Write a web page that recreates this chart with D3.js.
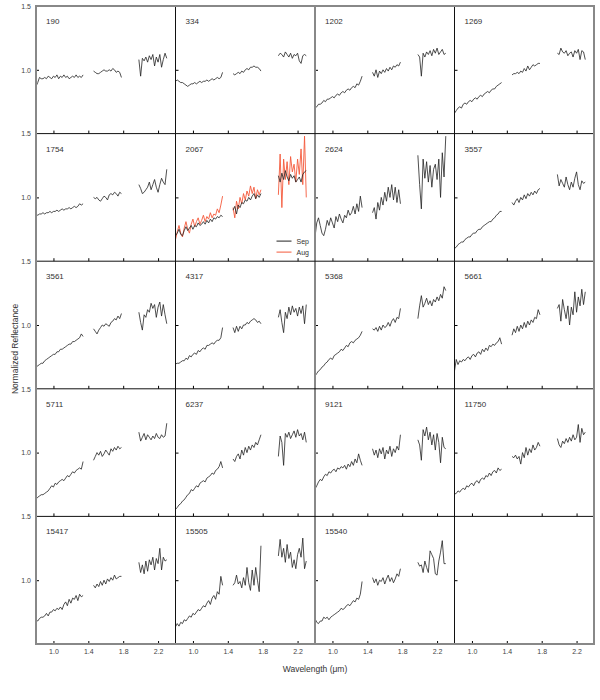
<!DOCTYPE html>
<html>
<head>
<meta charset="utf-8">
<script src="https://cdn.jsdelivr.net/npm/d3@7"></script>
<style>
  body { margin: 0; background: #fff; }
  text { font-family: "Liberation Sans", Arial, sans-serif; }
</style>
</head>
<body>
<div id="container"></div>
<script>
/* WAVELENGTH GRID (three segments, microns) */
const W1 = [0.80,0.82,0.84,0.86,0.88,0.90,0.92,0.94,0.96,0.98,1.00,1.02,1.04,1.06,1.08,1.10,1.12,1.14,1.16,1.18,1.20,1.22,1.24,1.26,1.28,1.30,1.32,1.34];
const W2 = [1.46,1.48,1.50,1.52,1.54,1.56,1.58,1.60,1.62,1.64,1.66,1.68,1.70,1.72,1.74,1.76,1.78];
const W3 = [1.98,2.00,2.02,2.04,2.06,2.08,2.10,2.12,2.14,2.16,2.18,2.20,2.22,2.24,2.26,2.28,2.30];

/* TICKS */
const xTicks = [1.0, 1.4, 1.8, 2.2];
const yTicks = [1.0, 1.5];

/* PANEL NAMES */
const names = ["190","334","1202","1269","1754","2067","2624","3557","3561","4317","5368","5661","5711","6237","9121","11750","15417","15505","15540"];

/* REFLECTANCE SPECTRA: [segment1, segment2, segment3] */
const s190 = [
  [0.87,0.90,0.94,0.93,0.93,0.94,0.93,0.95,0.94,0.93,0.95,0.94,0.96,0.93,0.95,0.94,0.96,0.94,0.95,0.93,0.94,0.95,0.94,0.96,0.94,0.95,0.94,0.96],
  [0.99,0.98,0.97,0.97,0.98,0.99,1.00,0.99,0.99,1.00,0.99,1.01,1.00,0.98,0.99,0.98,0.94],
  [1.08,0.95,1.09,1.07,1.10,1.06,1.11,1.08,1.12,1.03,1.10,1.06,1.12,1.02,1.08,1.13,1.09]];
const s334 = [
  [0.91,0.92,0.91,0.90,0.90,0.89,0.88,0.87,0.88,0.89,0.89,0.90,0.89,0.90,0.91,0.90,0.91,0.91,0.92,0.91,0.92,0.93,0.92,0.93,0.94,0.93,0.94,0.98],
  [0.97,0.96,0.97,0.98,0.97,0.99,0.98,1.00,1.01,1.00,1.02,1.02,1.03,1.02,1.02,1.01,0.99],
  [1.11,1.13,1.12,1.10,1.14,1.12,1.10,1.13,1.09,1.12,1.11,1.13,1.07,1.05,1.11,1.12,1.11]];
const s1202 = [
  [0.70,0.71,0.73,0.73,0.74,0.76,0.75,0.77,0.77,0.78,0.79,0.78,0.80,0.81,0.80,0.82,0.83,0.82,0.84,0.85,0.84,0.86,0.87,0.86,0.89,0.88,0.91,0.95],
  [0.98,0.95,1.00,0.94,0.99,0.97,1.00,0.98,1.01,0.99,1.02,1.00,1.03,1.02,1.04,1.03,1.06],
  [1.12,1.10,0.95,1.13,1.10,1.14,1.12,1.15,1.11,1.16,1.13,1.17,1.12,1.14,1.16,1.12,1.13]];
const s1269 = [
  [0.66,0.68,0.70,0.71,0.70,0.73,0.74,0.73,0.75,0.76,0.75,0.77,0.78,0.77,0.79,0.80,0.79,0.81,0.82,0.83,0.82,0.84,0.85,0.85,0.87,0.88,0.89,0.90],
  [0.96,0.97,0.97,0.98,0.97,0.99,0.98,1.01,0.99,1.03,1.00,1.02,1.04,1.03,1.04,1.05,1.05],
  [1.13,1.12,1.17,1.14,1.13,1.15,1.11,1.13,1.14,1.10,1.15,1.13,1.16,1.08,1.15,1.14,1.08]];
const s1754 = [
  [0.87,0.86,0.87,0.87,0.88,0.87,0.88,0.88,0.89,0.88,0.89,0.89,0.90,0.89,0.90,0.91,0.90,0.91,0.91,0.92,0.91,0.92,0.93,0.92,0.93,0.95,0.94,0.95],
  [1.00,0.99,1.00,0.98,0.97,0.99,1.01,1.00,0.98,1.02,1.03,1.02,1.04,1.03,1.01,1.04,1.03],
  [1.10,1.07,1.03,1.04,1.06,1.08,1.12,1.06,1.10,1.14,1.08,1.04,1.10,1.15,1.12,1.10,1.22]];
const s2067 = [
  [0.70,0.72,0.75,0.71,0.70,0.74,0.77,0.74,0.76,0.78,0.75,0.78,0.77,0.80,0.78,0.79,0.81,0.79,0.82,0.80,0.83,0.81,0.84,0.83,0.85,0.84,0.86,0.85],
  [0.90,0.93,0.87,0.94,0.92,0.96,0.95,0.98,0.97,1.00,0.98,1.01,1.03,0.99,1.02,1.00,1.03],
  [1.17,1.12,1.19,1.14,1.21,1.16,1.13,1.18,1.15,1.17,1.12,1.14,1.16,1.12,1.18,1.20,1.21]];
const aug2067 = [
  [0.67,0.73,0.78,0.72,0.69,0.76,0.81,0.75,0.72,0.79,0.83,0.77,0.81,0.84,0.79,0.82,0.86,0.81,0.85,0.83,0.88,0.84,0.87,0.86,0.91,0.88,0.94,1.01],
  [0.92,0.84,0.97,0.91,1.00,0.95,1.03,0.98,1.05,1.01,1.09,1.03,1.08,0.99,1.06,1.02,1.06],
  [1.02,1.34,0.92,1.30,1.14,1.28,1.10,1.32,1.20,1.26,1.12,1.30,1.18,1.38,1.10,1.48,1.00]];
const s2624 = [
  [0.69,0.80,0.84,0.78,0.72,0.70,0.75,0.82,0.78,0.84,0.80,0.76,0.85,0.81,0.87,0.83,0.80,0.86,0.84,0.90,0.86,0.88,0.93,0.87,0.95,0.89,1.01,0.92],
  [0.88,0.92,0.83,0.96,0.90,1.00,0.94,1.04,0.97,1.08,1.00,1.10,0.98,1.08,0.96,1.06,0.95],
  [1.33,1.10,0.91,1.30,1.15,1.28,1.12,1.25,1.08,1.22,1.26,1.14,1.30,1.00,1.35,1.16,1.48]];
const s3557 = [
  [0.60,0.61,0.63,0.64,0.65,0.65,0.67,0.68,0.69,0.69,0.71,0.72,0.72,0.74,0.75,0.75,0.77,0.78,0.79,0.80,0.81,0.81,0.83,0.84,0.86,0.87,0.89,0.89],
  [0.96,0.94,0.97,0.99,0.96,1.00,0.98,1.02,0.99,1.03,1.01,1.04,1.02,1.05,1.03,1.06,1.07],
  [1.18,1.09,1.14,1.11,1.08,1.16,1.10,1.06,1.12,1.08,1.15,1.20,1.10,1.06,1.13,1.11,1.12]];
const s3561 = [
  [0.67,0.68,0.69,0.70,0.70,0.72,0.73,0.74,0.75,0.76,0.77,0.77,0.79,0.79,0.81,0.81,0.82,0.83,0.84,0.85,0.85,0.87,0.87,0.88,0.89,0.90,0.93,0.91],
  [0.97,0.95,0.93,0.96,0.98,1.00,0.99,1.01,1.00,0.99,1.02,1.03,1.05,1.04,1.07,1.05,1.09],
  [1.10,1.02,0.96,1.08,1.06,1.12,1.10,1.17,1.13,1.16,1.06,1.14,1.18,1.07,1.16,1.08,1.01]];
const s4317 = [
  [0.695,0.70,0.70,0.71,0.72,0.72,0.74,0.73,0.76,0.75,0.77,0.78,0.77,0.80,0.79,0.81,0.82,0.81,0.84,0.84,0.85,0.86,0.85,0.87,0.88,0.88,0.90,0.98],
  [0.98,0.94,0.99,0.95,0.99,0.97,1.00,1.00,1.02,1.01,1.03,1.04,1.05,1.04,1.02,1.03,1.01],
  [1.06,1.12,1.02,0.94,1.10,1.05,1.14,1.08,1.15,1.10,1.13,1.07,1.14,1.09,1.15,1.01,1.16]];
const s5368 = [
  [0.60,0.62,0.64,0.65,0.67,0.68,0.70,0.71,0.73,0.74,0.73,0.76,0.77,0.78,0.79,0.81,0.80,0.82,0.84,0.83,0.86,0.87,0.86,0.88,0.89,0.90,0.92,0.95],
  [0.97,0.96,0.98,0.95,0.99,0.96,1.00,0.98,0.99,1.02,0.99,1.03,1.05,1.02,1.06,1.05,1.13],
  [1.05,1.15,1.23,1.14,1.17,1.21,1.16,1.19,1.15,1.20,1.18,1.22,1.19,1.24,1.21,1.30,1.27]];
const s5661 = [
  [0.64,0.73,0.69,0.72,0.71,0.73,0.72,0.74,0.75,0.73,0.76,0.77,0.75,0.78,0.79,0.77,0.81,0.79,0.82,0.80,0.84,0.83,0.85,0.84,0.86,0.87,0.90,0.85],
  [0.92,0.97,0.94,0.99,0.95,1.00,0.97,1.02,0.98,1.03,1.00,1.04,1.02,1.06,1.05,1.12,1.08],
  [1.13,1.16,1.03,1.20,1.12,1.05,1.15,1.00,1.14,1.08,1.26,1.10,1.22,1.15,1.28,1.16,1.26]];
const s5711 = [
  [0.635,0.65,0.66,0.67,0.67,0.68,0.69,0.70,0.72,0.74,0.73,0.76,0.75,0.77,0.78,0.79,0.78,0.80,0.82,0.81,0.83,0.85,0.84,0.86,0.87,0.88,0.87,0.93],
  [0.94,0.97,1.00,0.98,1.01,0.97,0.99,1.02,1.00,0.98,1.03,1.01,1.04,1.02,1.05,1.03,1.04],
  [1.16,1.09,1.12,1.15,1.10,1.14,1.12,1.10,1.13,1.11,1.15,1.12,1.11,1.14,1.12,1.13,1.23]];
const s6237 = [
  [0.555,0.57,0.59,0.60,0.62,0.63,0.65,0.67,0.68,0.71,0.70,0.72,0.74,0.73,0.76,0.77,0.78,0.77,0.80,0.81,0.82,0.84,0.83,0.86,0.87,0.89,0.93,0.88],
  [0.95,0.93,0.97,0.99,0.95,1.02,0.98,1.04,1.00,1.05,1.02,1.06,1.04,1.08,1.06,1.10,1.14],
  [0.97,1.13,1.08,0.90,1.15,1.12,1.16,1.11,1.14,1.17,1.12,1.18,1.13,1.15,1.10,1.16,1.08]];
const s9121 = [
  [0.715,0.74,0.77,0.79,0.78,0.81,0.83,0.82,0.85,0.84,0.86,0.87,0.85,0.88,0.87,0.89,0.88,0.90,0.87,0.91,0.89,0.93,0.90,0.95,0.92,0.99,0.94,0.90],
  [1.03,0.98,1.02,0.96,1.03,0.99,1.04,0.95,1.02,0.99,1.05,0.97,1.03,1.00,1.05,1.02,1.14],
  [1.10,1.06,0.94,1.18,1.13,1.20,1.10,1.16,1.06,1.14,1.02,1.15,1.08,0.92,1.12,1.04,1.03]];
const s11750 = [
  [0.675,0.68,0.70,0.69,0.71,0.72,0.71,0.74,0.73,0.75,0.76,0.74,0.77,0.78,0.76,0.79,0.80,0.79,0.82,0.81,0.84,0.82,0.85,0.86,0.84,0.88,0.86,0.87],
  [0.97,0.96,0.98,0.95,0.97,0.91,1.00,0.96,1.04,0.98,1.03,1.00,1.06,1.02,1.04,1.08,1.05],
  [1.11,1.06,1.04,1.09,1.07,1.11,1.08,1.12,1.09,1.14,1.10,1.12,1.22,1.08,1.19,1.14,1.16]];
const s15417 = [
  [0.69,0.68,0.70,0.71,0.71,0.72,0.74,0.72,0.75,0.75,0.77,0.76,0.78,0.77,0.79,0.77,0.81,0.83,0.80,0.85,0.82,0.86,0.85,0.88,0.84,0.89,0.87,0.88],
  [0.96,0.94,0.97,0.95,0.99,0.96,1.00,0.97,1.01,0.99,1.02,1.00,1.04,1.01,1.02,1.03,1.03],
  [1.14,1.06,1.12,1.05,1.15,1.07,1.16,1.12,1.18,1.08,1.17,1.13,1.25,1.08,1.18,1.15,1.16]];
const s15505 = [
  [0.635,0.66,0.64,0.67,0.66,0.69,0.68,0.70,0.72,0.71,0.74,0.73,0.75,0.77,0.76,0.78,0.80,0.79,0.82,0.84,0.81,0.86,0.88,0.85,0.91,0.89,1.03,0.96],
  [0.96,0.98,1.04,0.97,0.99,0.94,1.02,0.96,1.10,0.98,0.92,1.08,0.96,1.10,1.00,0.91,1.27],
  [1.19,1.32,1.18,1.25,1.14,1.28,1.17,1.22,1.10,1.16,1.09,1.20,1.25,1.18,1.33,1.09,1.15]];
const s15540 = [
  [0.70,0.67,0.66,0.68,0.68,0.71,0.70,0.71,0.69,0.71,0.72,0.73,0.74,0.75,0.76,0.78,0.77,0.78,0.80,0.81,0.80,0.82,0.84,0.83,0.86,0.85,0.89,0.99],
  [1.02,0.98,1.01,0.96,1.00,0.99,1.02,0.97,1.01,1.04,0.99,1.02,0.98,1.01,1.05,1.03,1.09],
  [1.14,1.11,1.12,1.06,1.15,1.10,1.06,1.23,1.20,1.17,1.05,1.04,1.15,1.22,1.31,1.13,1.13]];

const spectra = [s190,s334,s1202,s1269,s1754,s2067,s2624,s3557,s3561,s4317,s5368,s5661,s5711,s6237,s9121,s11750,s15417,s15505,s15540];

/* LAYOUT */
const W = 600, H = 700;
const gridLeft = 36, gridTop = 6, nCols = 4, nRows = 5;
const pw = 139.5, ph = 127.6;
const sepColor = "#222", augColor = "#f4593b";

const svg = d3.select("#container").append("svg")
  .attr("width", W)
  .attr("height", H);

// SCALES (one panel)
const x = d3.scaleLinear().domain([0.8, 2.4]).range([0, pw]);
const y = d3.scaleLinear().domain([0.5, 1.5]).range([ph, 0]);

const line = d3.line()
  .x(d => x(d[0]))
  .y(d => y(d[1]));

function segments(spec) {
  return [W1, W2, W3].map((w, i) =>
    w.slice(0, spec[i].length).map((wl, j) => [wl, spec[i][j]]));
}

svg.append("clipPath").attr("id", "clip")
  .append("rect").attr("width", pw).attr("height", ph);

for (let i = 0; i < nCols * nRows; i++) {
  const col = i % nCols, row = Math.floor(i / nCols);
  const g = svg.append("g")
    .attr("transform", "translate(" + (gridLeft + col * pw) + "," + (gridTop + row * ph) + ")");

  /* INWARD TICKS */
  g.append("g")
    .attr("transform", "translate(0," + ph + ")")
    .call(d3.axisBottom(x).tickValues(xTicks).tickSize(-3).tickFormat(""))
    .call(a => a.select(".domain").remove());
  g.append("g")
    .call(d3.axisLeft(y).tickValues([1.0]).tickSize(-3).tickFormat(""))
    .call(a => a.select(".domain").remove());

  if (i >= names.length) continue;

  const plot = g.append("g").attr("clip-path", "url(#clip)");

  if (names[i] === "2067") {
    plot.selectAll(".aug").data(segments(aug2067)).enter()
      .append("path")
      .attr("d", line)
      .attr("fill", "none")
      .attr("stroke", augColor)
      .attr("stroke-width", 0.9);
  }

  plot.selectAll(".sep").data(segments(spectra[i])).enter()
    .append("path")
    .attr("d", line)
    .attr("fill", "none")
    .attr("stroke", sepColor)
    .attr("stroke-width", 0.8);

  g.append("text")
    .attr("x", 10)
    .attr("y", 18)
    .attr("font-size", 8)
    .attr("fill", "#333")
    .text(names[i]);

  /* LEGEND */
  if (names[i] === "2067") {
    const leg = [["Sep", sepColor], ["Aug", augColor]];
    leg.forEach((l, k) => {
      g.append("line")
        .attr("x1", 101).attr("x2", 116)
        .attr("y1", 107.5 + k * 11).attr("y2", 107.5 + k * 11)
        .attr("stroke", l[1]).attr("stroke-width", 1);
      g.append("text")
        .attr("x", 121).attr("y", 107.5 + k * 11)
        .attr("dy", "0.35em")
        .attr("font-size", 7)
        .attr("fill", "#333")
        .text(l[0]);
    });
  }
}

/* Y TICK LABELS (left column) */
for (let r = 0; r < nRows; r++) {
  svg.append("g")
    .attr("transform", "translate(" + gridLeft + "," + (gridTop + r * ph) + ")")
    .call(d3.axisLeft(y).tickValues(yTicks).tickSize(0).tickPadding(5).tickFormat(d3.format(".1f")))
    .call(a => a.select(".domain").remove())
    .call(a => a.selectAll("text").attr("font-size", 7).attr("fill", "#444")
      .style("font-family", '"Liberation Sans", Arial, sans-serif'));
}

/* X TICK LABELS (bottom row) */
for (let c = 0; c < nCols; c++) {
  svg.append("g")
    .attr("transform", "translate(" + (gridLeft + c * pw) + "," + (gridTop + nRows * ph) + ")")
    .call(d3.axisBottom(x).tickValues(xTicks).tickSize(0).tickPadding(5).tickFormat(d3.format(".1f")))
    .call(a => a.select(".domain").remove())
    .call(a => a.selectAll("text").attr("font-size", 7).attr("fill", "#444")
      .style("font-family", '"Liberation Sans", Arial, sans-serif'));
}

/* GRID LINES */
for (let c = 1; c < nCols; c++) {
  svg.append("line")
    .attr("x1", gridLeft + c * pw).attr("x2", gridLeft + c * pw)
    .attr("y1", gridTop).attr("y2", gridTop + nRows * ph)
    .attr("stroke", c === 2 ? "#888" : "#111")
    .attr("stroke-width", c === 2 ? 2 : 1);
}
for (let r = 1; r < nRows; r++) {
  svg.append("line")
    .attr("x1", gridLeft).attr("x2", gridLeft + nCols * pw)
    .attr("y1", gridTop + r * ph).attr("y2", gridTop + r * ph)
    .attr("stroke", "#111")
    .attr("stroke-width", 1);
}
svg.append("rect")
  .attr("x", gridLeft).attr("y", gridTop)
  .attr("width", nCols * pw).attr("height", nRows * ph)
  .attr("fill", "none")
  .attr("stroke", "#888")
  .attr("stroke-width", 2);

/* AXIS TITLES */
svg.append("text")
  .attr("x", gridLeft + nCols * pw / 2)
  .attr("y", 672)
  .attr("text-anchor", "middle")
  .attr("font-size", 8.5)
  .attr("fill", "#333")
  .text("Wavelength (\u03bcm)");

svg.append("text")
  .attr("transform", "rotate(-90)")
  .attr("x", -349)
  .attr("y", 18)
  .attr("text-anchor", "middle")
  .attr("font-size", 8.5)
  .attr("fill", "#333")
  .text("Normalized Reflectance");
</script>
</body>
</html>
